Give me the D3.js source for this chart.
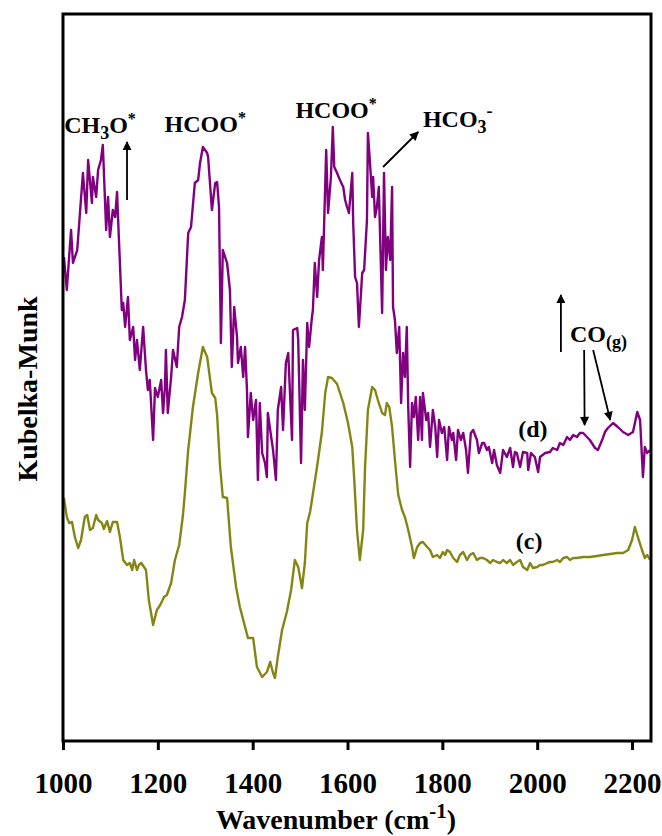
<!DOCTYPE html>
<html>
<head>
<meta charset="utf-8">
<script src="https://cdn.jsdelivr.net/npm/d3@7/dist/d3.min.js"></script>
<style>
body { margin: 0; background: #fff; }
svg text { font-family: "Liberation Serif", "DejaVu Serif", serif; font-weight: bold; fill: #000; }
</style>
</head>
<body>
<div id="chart"></div>
<script>
// DRIFTS spectra, Kubelka-Munk (a.u.)
const spectrumD = [
  [1002,4.84],[1008,4.51],[1017,5.11],[1021,4.78],[1030,4.91],[1042,5.68],[1049,5.28],[1053,5.81],[1061,5.38],[1063,5.64],
  [1070,5.44],[1074,5.71],[1080,5.81],[1084,5.96],[1091,5.11],[1095,5.44],[1099,5.04],[1105,5.31],[1110,5.24],[1114,5.49],
  [1116,5.24],[1120,4.78],[1124,4.31],[1127,4.38],[1131,4.14],[1137,4.44],[1141,4.01],[1148,4.14],[1152,3.81],[1156,4.01],
  [1162,3.71],[1169,4.14],[1175,3.71],[1179,3.51],[1183,3.61],[1190,3.01],[1194,3.53],[1200,3.44],[1207,3.61],[1211,3.28],
  [1215,3.54],[1217,3.91],[1221,3.28],[1228,3.64],[1232,3.91],[1240,3.74],[1245,4.14],[1251,4.24],[1257,4.41],[1264,5.08],
  [1270,5.14],[1278,5.58],[1285,5.61],[1289,5.78],[1295,5.94],[1304,5.88],[1306,5.84],[1314,5.31],[1321,5.58],[1325,5.59],
  [1329,5.34],[1333,3.98],[1337,4.91],[1346,4.78],[1352,4.51],[1356,3.74],[1361,4.34],[1367,4.04],[1369,3.78],[1375,3.94],
  [1380,3.64],[1384,3.94],[1388,3.51],[1390,3.04],[1396,3.48],[1401,3.21],[1407,3.41],[1411,2.61],[1415,3.38],[1420,2.88],
  [1426,2.78],[1430,2.64],[1432,3.28],[1439,3.04],[1443,2.91],[1449,2.61],[1453,3.31],[1460,3.54],[1464,3.11],[1470,3.78],
  [1475,3.88],[1483,3.01],[1485,4.11],[1494,4.13],[1496,4.01],[1502,2.78],[1506,3.81],[1510,3.31],[1515,4.18],[1519,3.94],
  [1525,4.24],[1527,4.31],[1531,4.78],[1536,4.44],[1540,4.81],[1546,5.04],[1548,4.71],[1555,5.91],[1559,5.28],[1565,5.64],
  [1569,6.14],[1572,5.74],[1578,5.68],[1584,5.61],[1591,5.54],[1595,5.41],[1599,5.34],[1603,5.28],[1610,5.68],[1612,5.18],
  [1616,4.64],[1620,4.58],[1624,4.14],[1631,4.68],[1635,4.71],[1641,5.21],[1643,6.08],[1647,5.81],[1652,5.44],[1654,5.64],
  [1658,5.24],[1662,5.34],[1666,5.54],[1673,4.28],[1677,5.68],[1681,4.71],[1685,5.04],[1690,4.81],[1694,5.54],[1696,4.34],
  [1700,4.21],[1704,3.88],[1709,4.14],[1713,3.38],[1717,3.88],[1721,3.64],[1725,4.14],[1728,3.34],[1732,2.74],[1736,3.38],
  [1740,3.24],[1744,3.44],[1749,3.01],[1753,3.44],[1757,3.01],[1759,3.48],[1766,3.21],[1770,3.28],[1774,2.94],[1780,3.31],
  [1785,3.14],[1789,2.84],[1793,3.21],[1799,3.08],[1804,3.14],[1810,2.81],[1814,3.14],[1820,3.01],[1823,3.08],[1829,2.81],
  [1833,3.11],[1839,3.01],[1844,3.08],[1850,2.91],[1854,2.68],[1860,3.08],[1865,3.11],[1873,3.01],[1877,2.88],[1884,2.98],
  [1888,2.98],[1894,2.91],[1898,2.94],[1905,2.78],[1909,2.91],[1915,2.76],[1922,2.68],[1928,2.91],[1936,2.84],[1943,2.93],
  [1949,2.74],[1953,2.89],[1957,2.88],[1964,2.74],[1970,2.89],[1979,2.88],[1981,2.71],[1987,2.88],[1995,2.84],[2002,2.69],
  [2006,2.84],[2017,2.88],[2027,2.89],[2033,2.93],[2042,2.91],[2048,2.98],[2055,2.96],[2063,3.04],[2069,3.01],[2076,3.06],
  [2084,3.04],[2090,3.08],[2097,3.08],[2105,3.04],[2111,3.01],[2122,2.93],[2128,2.91],[2137,3.01],[2143,3.09],[2149,3.13],
  [2160,3.18],[2170,3.14],[2181,3.09],[2192,3.06],[2202,3.09],[2211,3.29],[2217,3.21],[2223,2.64],[2227,2.94],[2232,2.88],
  [2238,2.91]
];

const spectrumC = [
  [1002,2.43],[1008,2.24],[1013,2.18],[1019,2.19],[1025,2.04],[1032,1.93],[1038,2.01],[1046,2.24],[1051,2.26],[1057,2.11],
  [1063,2.13],[1070,2.26],[1074,2.21],[1082,2.18],[1086,2.12],[1093,2.20],[1099,2.09],[1105,2.19],[1114,2.19],[1120,2.04],
  [1127,1.81],[1135,1.76],[1141,1.78],[1146,1.71],[1150,1.81],[1156,1.71],[1160,1.76],[1165,1.78],[1175,1.71],[1181,1.41],
  [1190,1.16],[1198,1.31],[1205,1.36],[1213,1.44],[1219,1.46],[1228,1.58],[1236,1.81],[1245,1.96],[1253,2.26],[1257,2.48],
  [1264,2.91],[1274,3.34],[1285,3.68],[1295,3.94],[1304,3.84],[1314,3.48],[1321,3.43],[1325,3.26],[1331,2.76],[1337,2.44],
  [1346,2.43],[1354,1.94],[1365,1.54],[1373,1.34],[1384,1.14],[1390,1.03],[1401,1.03],[1409,0.74],[1420,0.64],[1430,0.69],
  [1437,0.79],[1443,0.68],[1447,0.63],[1453,0.84],[1462,1.11],[1472,1.29],[1481,1.51],[1489,1.81],[1496,1.74],[1504,1.53],
  [1510,1.78],[1515,2.18],[1521,2.29],[1525,2.41],[1536,2.75],[1546,3.09],[1553,3.48],[1559,3.64],[1567,3.63],[1578,3.57],
  [1591,3.38],[1601,3.18],[1610,2.94],[1614,2.63],[1620,2.11],[1626,1.81],[1633,2.11],[1637,2.74],[1643,3.31],[1652,3.54],
  [1658,3.51],[1664,3.41],[1673,3.28],[1679,3.26],[1683,3.38],[1688,3.34],[1694,3.14],[1700,2.81],[1707,2.46],[1715,2.31],
  [1721,2.24],[1728,2.11],[1736,1.94],[1740,1.83],[1747,1.94],[1753,1.98],[1759,1.99],[1768,1.94],[1774,1.91],[1780,1.84],
  [1789,1.86],[1795,1.83],[1801,1.89],[1806,1.86],[1810,1.91],[1816,1.89],[1823,1.83],[1831,1.79],[1837,1.86],[1844,1.89],
  [1852,1.81],[1858,1.86],[1865,1.88],[1873,1.81],[1879,1.83],[1886,1.83],[1894,1.81],[1901,1.78],[1907,1.81],[1915,1.79],
  [1922,1.78],[1928,1.81],[1936,1.78],[1943,1.81],[1949,1.76],[1957,1.79],[1964,1.81],[1970,1.74],[1979,1.71],[1985,1.78],
  [1991,1.73],[2000,1.74],[2006,1.76],[2012,1.76],[2021,1.78],[2027,1.79],[2033,1.79],[2042,1.81],[2048,1.79],[2055,1.83],
  [2063,1.84],[2069,1.81],[2076,1.83],[2084,1.83],[2097,1.84],[2111,1.84],[2126,1.85],[2139,1.86],[2154,1.87],[2168,1.88],
  [2181,1.88],[2192,1.91],[2200,2.01],[2206,2.14],[2213,2.03],[2221,1.91],[2227,1.83],[2232,1.86],[2238,1.81]
];

const xTicks = [1000, 1200, 1400, 1600, 1800, 2000, 2200];
const xDomain = [1000, 2240];
const yDomain = [0, 7.27];

// arrows: [x1, y1, x2, y2] in data units, head at the second point
const arrows = [
  [1135, 5.41, 1135, 5.99],
  [1675, 5.74, 1749, 6.09],
  [2050, 3.89, 2050, 4.46],
  [2099, 3.91, 2100, 3.16],
  [2118, 3.91, 2154, 3.21]
];

const margin = { top: 14, right: 11, bottom: 95, left: 63 },
    width = 662 - margin.left - margin.right,
    height = 836 - margin.top - margin.bottom;

const svg = d3.select("#chart").append("svg")
    .attr("width", 662)
    .attr("height", 836);

const g = svg.append("g")
    .attr("transform", "translate(" + margin.left + "," + margin.top + ")");

const x = d3.scaleLinear().domain(xDomain).range([0, width]);
const y = d3.scaleLinear().domain(yDomain).range([height, 0]);

svg.append("defs").append("marker")
    .attr("id", "head")
    .attr("viewBox", "0 0 10 10")
    .attr("refX", 9).attr("refY", 5)
    .attr("markerWidth", 11).attr("markerHeight", 9)
    .attr("markerUnits", "userSpaceOnUse")
    .attr("orient", "auto")
  .append("path")
    .attr("d", "M0,0 L10,5 L0,10 Z")
    .attr("fill", "#000");

const line = d3.line().x(d => x(d[0])).y(d => y(d[1]));

g.append("path").datum(spectrumC)
    .attr("fill", "none").attr("stroke", "#858514").attr("stroke-width", 2.4)
    .attr("stroke-linejoin", "round")
    .attr("d", line);

g.append("path").datum(spectrumD)
    .attr("fill", "none").attr("stroke", "#800080").attr("stroke-width", 2.4)
    .attr("stroke-linejoin", "round")
    .attr("d", line);

// frame
g.append("rect")
    .attr("width", width).attr("height", height)
    .attr("fill", "none").attr("stroke", "#000").attr("stroke-width", 3);

const xAxis = g.append("g")
    .attr("transform", "translate(0," + height + ")")
    .call(d3.axisBottom(x).tickValues(xTicks).tickFormat(d3.format("d"))
      .tickSize(9).tickSizeOuter(0).tickPadding(22));
xAxis.select(".domain").remove();
xAxis.selectAll(".tick line").attr("stroke-width", 3);
xAxis.selectAll(".tick text")
    .attr("font-size", 29)
    .style("font-family", '"Liberation Serif", serif').style("font-weight", "bold");

svg.append("text")
    .attr("x", 336)
    .attr("y", 829)
    .attr("text-anchor", "middle")
    .attr("font-size", 28)
    .call(t => {
      t.append("tspan").text("Wavenumber (cm");
      t.append("tspan").attr("dy", -11).attr("font-size", 21).text("-1");
      t.append("tspan").attr("dy", 11).text(")");
    });

svg.append("text")
    .attr("transform", "translate(37," + (margin.top + 375) + ") rotate(-90)")
    .attr("text-anchor", "middle")
    .attr("font-size", 28)
    .text("Kubelka-Munk");

// annotations
function label(wx, val, anchor, parts) {
  const t = g.append("text")
      .attr("x", x(wx)).attr("y", y(val))
      .attr("text-anchor", anchor)
      .attr("font-size", 24);
  parts.forEach(p => {
    t.append("tspan").attr("dy", p[1]).attr("font-size", p[2] || 24).text(p[0]);
  });
}

label(1078, 6.08, "middle", [["CH", 0], ["3", 6, 18], ["O", -6], ["*", -9, 16]]);
label(1300, 6.09, "middle", [["HCOO", 0], ["*", -9, 16]]);
label(1576, 6.23, "middle", [["HCOO", 0], ["*", -9, 16]]);
label(1759, 6.14, "start", [["HCO", 0], ["3", 6, 18], ["-", -16, 18]]);
label(2069, 3.99, "start", [["CO", 0], ["(g)", 6, 18]]);
label(1991, 3.04, "middle", [["(d)", 0]]);
label(1983, 1.92, "middle", [["(c)", 0]]);

g.selectAll(".arrow")
  .data(arrows)
  .enter().append("line")
    .attr("class", "arrow")
    .attr("x1", d => x(d[0])).attr("y1", d => y(d[1]))
    .attr("x2", d => x(d[2])).attr("y2", d => y(d[3]))
    .attr("stroke", "#000").attr("stroke-width", 1.8)
    .attr("marker-end", "url(#head)");
</script>
</body>
</html>
